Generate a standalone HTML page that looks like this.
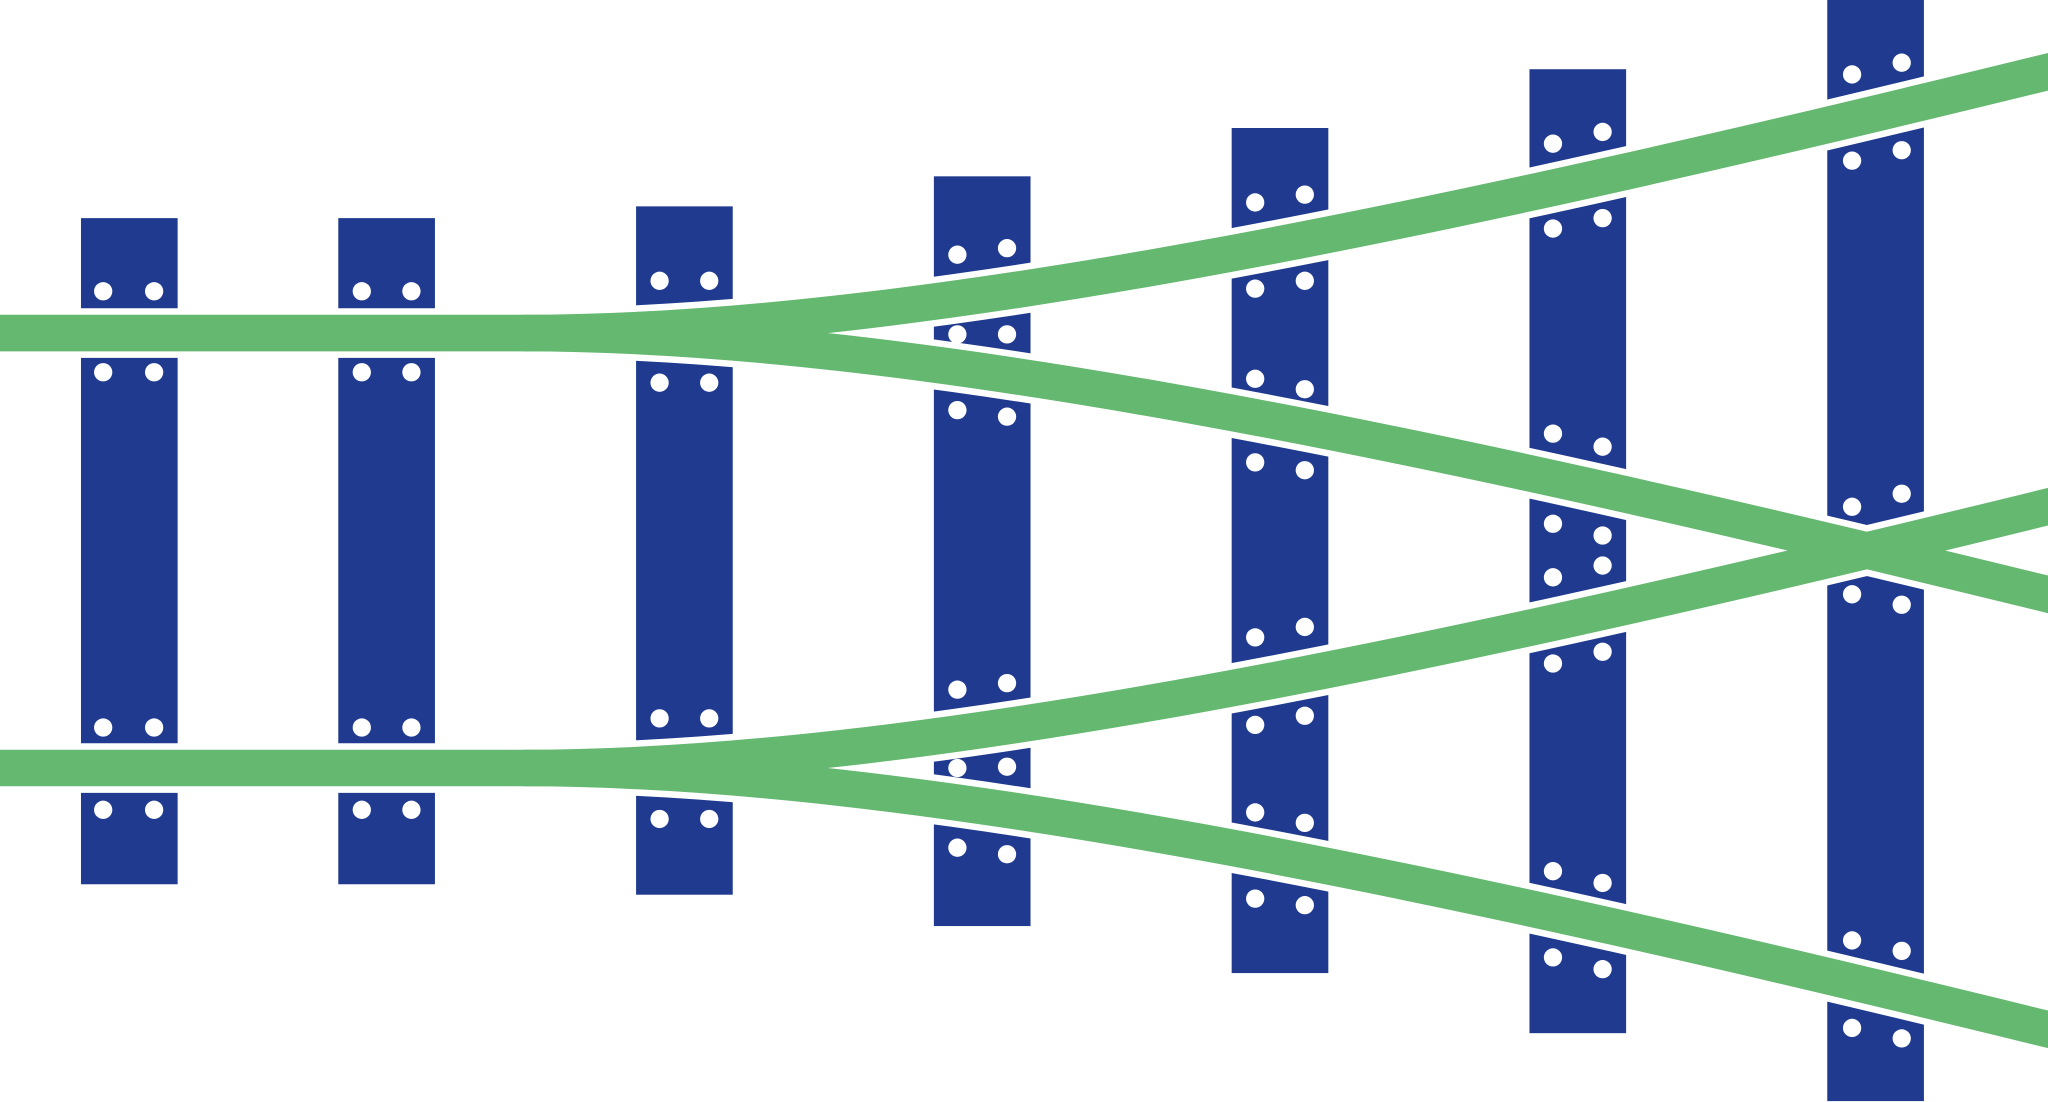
<!DOCTYPE html>
<html><head><meta charset="utf-8"><style>
html,body{margin:0;padding:0;background:#fff;width:2048px;height:1102px;overflow:hidden}
svg{display:block}
</style></head><body>
<svg width="2048" height="1102" viewBox="0 0 1568 843.7" preserveAspectRatio="none" xmlns="http://www.w3.org/2000/svg">
<g fill="#1f3a8f">
<rect x="62" y="167" width="74" height="510"/>
<rect x="259" y="167" width="74" height="510"/>
<rect x="487" y="158" width="74" height="527"/>
<rect x="715" y="135" width="74" height="574"/>
<rect x="943" y="98" width="74" height="647"/>
<rect x="1171" y="53" width="74" height="738"/>
<rect x="1399" y="0" width="74" height="843"/>
</g>
<g fill="none" stroke="#fff" stroke-width="38">
<path d="M-10,255 L400,255 C700,255 1100,170 1580,52"/>
<path d="M400,255 C700,255 1100,340 1580,458"/>
<path d="M-10,588 L400,588 C700,588 1100,503 1580,385"/>
<path d="M400,588 C700,588 1100,673 1580,791"/>
</g>
<g fill="none" stroke="#64b870" stroke-width="28">
<path d="M-10,255 L400,255 C700,255 1100,170 1580,52"/>
<path d="M400,255 C700,255 1100,340 1580,458"/>
<path d="M-10,588 L400,588 C700,588 1100,503 1580,385"/>
<path d="M400,588 C700,588 1100,673 1580,791"/>
</g>
<g fill="#fff">
<circle cx="79" cy="223" r="7"/><circle cx="118" cy="223" r="7"/><circle cx="79" cy="285" r="7"/><circle cx="118" cy="285" r="7"/><circle cx="79" cy="557" r="7"/><circle cx="118" cy="557" r="7"/><circle cx="79" cy="620" r="7"/><circle cx="118" cy="620" r="7"/>
<circle cx="277" cy="223" r="7"/><circle cx="315" cy="223" r="7"/><circle cx="277" cy="285" r="7"/><circle cx="315" cy="285" r="7"/><circle cx="277" cy="557" r="7"/><circle cx="315" cy="557" r="7"/><circle cx="277" cy="620" r="7"/><circle cx="315" cy="620" r="7"/>
<circle cx="505" cy="215" r="7"/><circle cx="543" cy="215" r="7"/><circle cx="505" cy="293" r="7"/><circle cx="543" cy="293" r="7"/><circle cx="505" cy="550" r="7"/><circle cx="543" cy="550" r="7"/><circle cx="505" cy="627" r="7"/><circle cx="543" cy="627" r="7"/>
<circle cx="733" cy="195" r="7"/><circle cx="771" cy="190" r="7"/><circle cx="733" cy="256" r="7"/><circle cx="771" cy="256" r="7"/><circle cx="733" cy="314" r="7"/><circle cx="771" cy="319" r="7"/><circle cx="733" cy="528" r="7"/><circle cx="771" cy="523" r="7"/><circle cx="733" cy="588" r="7"/><circle cx="771" cy="587" r="7"/><circle cx="733" cy="649" r="7"/><circle cx="771" cy="654" r="7"/>
<circle cx="961" cy="155" r="7"/><circle cx="999" cy="149" r="7"/><circle cx="961" cy="221" r="7"/><circle cx="999" cy="215" r="7"/><circle cx="961" cy="290" r="7"/><circle cx="999" cy="298" r="7"/><circle cx="961" cy="354" r="7"/><circle cx="999" cy="360" r="7"/><circle cx="961" cy="488" r="7"/><circle cx="999" cy="480" r="7"/><circle cx="961" cy="555" r="7"/><circle cx="999" cy="548" r="7"/><circle cx="961" cy="622" r="7"/><circle cx="999" cy="630" r="7"/><circle cx="961" cy="688" r="7"/><circle cx="999" cy="693" r="7"/>
<circle cx="1189" cy="110" r="7"/><circle cx="1227" cy="101" r="7"/><circle cx="1189" cy="175" r="7"/><circle cx="1227" cy="167" r="7"/><circle cx="1189" cy="332" r="7"/><circle cx="1227" cy="342" r="7"/><circle cx="1189" cy="401" r="7"/><circle cx="1227" cy="410" r="7"/><circle cx="1189" cy="442" r="7"/><circle cx="1227" cy="433" r="7"/><circle cx="1189" cy="508" r="7"/><circle cx="1227" cy="499" r="7"/><circle cx="1189" cy="667" r="7"/><circle cx="1227" cy="676" r="7"/><circle cx="1189" cy="733" r="7"/><circle cx="1227" cy="742" r="7"/>
<circle cx="1418" cy="57" r="7"/><circle cx="1456" cy="48" r="7"/><circle cx="1418" cy="123" r="7"/><circle cx="1456" cy="115" r="7"/><circle cx="1418" cy="388" r="7"/><circle cx="1456" cy="378" r="7"/><circle cx="1418" cy="455" r="7"/><circle cx="1456" cy="463" r="7"/><circle cx="1418" cy="720" r="7"/><circle cx="1456" cy="728" r="7"/><circle cx="1418" cy="787" r="7"/><circle cx="1456" cy="795" r="7"/>
</g>
</svg>
</body></html>
